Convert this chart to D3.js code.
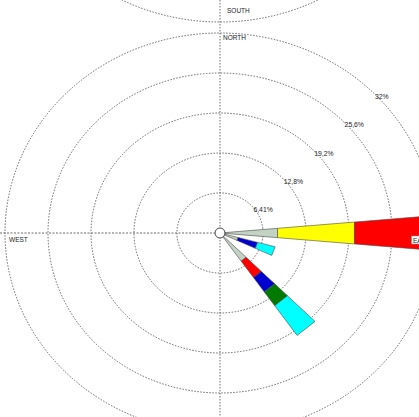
<!DOCTYPE html>
<html><head><meta charset="utf-8">
<script src="https://cdn.jsdelivr.net/npm/d3@7"></script>
<style>html,body{margin:0;padding:0;background:#fff;overflow:hidden}</style>
</head><body>
<svg id="c" width="419" height="417"></svg>
<script>
// ---- data ----
const directions = [90, 110, 140];            // bearing of each petal (deg)
const speedClasses = ["c1","c2","c3","c4","c5","c6"];
const classColors = ["#c3d3c3","#ffff00","#ff0000","#0000d0","#007a00","#00ffff"];
// percentage per class, for each direction (same order as directions)
const class1 = [8.6, 2.8, 5.5];
const class2 = [11.5, 0, 0];
const class3 = [11.9, 0, 3.2];
const class4 = [0, 3.0, 2.8];
const class5 = [0, 0, 2.7];
const class6 = [0, 2.7, 5.8];
const ringValues = [6.41, 12.8, 19.2, 25.6, 32];
const ringLabels = ["6,41%","12,8%","19,2%","25,6%","32%"];
const sectorWidth = 10;

// ---- layout ----
const svg = d3.select("#c");
const cx = 220, cy = 233, sy = 200/215;
const R = d3.scaleLinear().domain([0, 32]).range([0, 215]);
const rad = d3.scaleLinear().domain([0, 360]).range([0, 2*Math.PI]);
const pt = (v, a) => [cx + R(v)*Math.sin(rad(a)), cy - R(v)*Math.cos(rad(a))*sy];
const grid = "#444";

// neighbouring chart's outer ring (cropped above) and its SOUTH label
svg.append("ellipse").attr("cx", cx).attr("cy", cy - 411).attr("rx", R(32)).attr("ry", R(32)*sy)
  .attr("fill","none").attr("stroke",grid).attr("stroke-width",0.8).attr("stroke-dasharray","1.5,1.5");
svg.append("text").attr("x", 227).attr("y", 13).text("SOUTH")
  .attr("font-family","Liberation Sans, Arial").attr("font-size",6.5).attr("fill","#222");

// rings
svg.selectAll("ellipse.ring").data(ringValues).enter().append("ellipse").attr("class","ring")
  .attr("cx", cx).attr("cy", cy).attr("rx", d => R(d)).attr("ry", d => R(d)*sy)
  .attr("fill","none").attr("stroke",grid).attr("stroke-width",0.8).attr("stroke-dasharray","1.5,1.5");

// axes lines
svg.append("line").attr("x1",0).attr("x2",419).attr("y1",cy).attr("y2",cy)
  .attr("stroke",grid).attr("stroke-width",0.8).attr("stroke-dasharray","2,1.5");
svg.append("line").attr("x1",cx).attr("x2",cx).attr("y1",0).attr("y2",417)
  .attr("stroke",grid).attr("stroke-width",0.8).attr("stroke-dasharray","1.5,1.5");

// petals
const classes = [class1, class2, class3, class4, class5, class6];
const segs = [];
directions.forEach((dir, i) => {
  let acc = 0;
  classes.forEach((cl, k) => {
    const v = cl[i];
    if (v > 0) { segs.push({dir, r0: acc, r1: acc + v, color: classColors[k]}); acc += v; }
  });
});
svg.selectAll("path.seg").data(segs).enter().append("path").attr("class","seg")
  .attr("d", d => {
    const h = sectorWidth/2;
    return "M" + [pt(d.r0, d.dir-h), pt(d.r1, d.dir-h), pt(d.r1, d.dir+h), pt(d.r0, d.dir+h)]
      .map(p => p.join(",")).join("L") + "Z";
  })
  .attr("fill", d => d.color).attr("stroke","#4a4a4a").attr("stroke-width",0.6);

// centre circle
svg.append("circle").attr("cx",cx).attr("cy",cy).attr("r",5)
  .attr("fill","#fff").attr("stroke","#444").attr("stroke-width",1);

// ring labels
svg.selectAll("text.rl").data(ringValues).enter().append("text").attr("class","rl")
  .attr("x", d => pt(d,45)[0] + 3).attr("y", d => pt(d,45)[1] + 7.5)
  .text((d,i) => ringLabels[i])
  .attr("font-family","Liberation Sans, Arial").attr("font-size",6.8).attr("fill","#222");

// compass labels
svg.append("text").attr("x", 9).attr("y", 242).text("WEST")
  .attr("font-family","Liberation Sans, Arial").attr("font-size",6.5).attr("fill","#222");
svg.append("text").attr("x", 223).attr("y", 39.5).text("NORTH")
  .attr("font-family","Liberation Sans, Arial").attr("font-size",6.5).attr("fill","#222");
svg.append("rect").attr("x",411.5).attr("y",236).attr("width",24).attr("height",8)
  .attr("fill","#fff").attr("stroke","#888").attr("stroke-width",0.6);
svg.append("text").attr("x", 413).attr("y", 242.5).text("EAST")
  .attr("font-family","Liberation Sans, Arial").attr("font-size",6.5).attr("fill","#222");
</script>
</body></html>
